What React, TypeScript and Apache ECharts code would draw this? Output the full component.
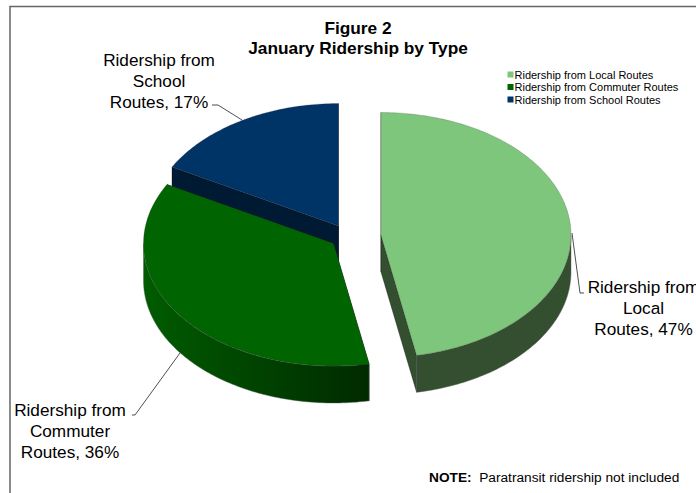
import React, { useEffect, useRef } from "react";
import * as echarts from "echarts";

const sliceNames = ["Ridership from Local Routes", "Ridership from Commuter Routes", "Ridership from School Routes"];
const sliceShares = [47, 36, 17];
const labelLines = [
  ["Ridership from", "Local", "Routes, 47%"],
  ["Ridership from", "Commuter", "Routes, 36%"],
  ["Ridership from", "School", "Routes, 17%"],
];
const titleLines = ["Figure 2", "January Ridership by Type"];
const topColors = ["#7DC67C", "#006400", "#003366"];

const centers = [[381, 235], [333.5, 243.5], [338.5, 226]];
const RX = 190, RY = 122.5, DEPTH = 37;
const FONT = '"Liberation Sans", Arial, sans-serif';

const wallFills: any[] = [
  "#344F30",
  { type: "linear", x: 0, y: 0, x2: 1, y2: 0, colorStops: [{ offset: 0, color: "#005C00" }, { offset: 1, color: "#002A00" }] },
  "#001A33",
];
const faceFills = ["#344F30", "#002A00", "#001A33"];

function pt(i: number, deg: number, dy = 0): number[] {
  const a = (deg * Math.PI) / 180;
  return [centers[i][0] + RX * Math.sin(a), centers[i][1] - RY * Math.cos(a) + dy];
}
function arc(i: number, from: number, to: number, dy = 0): number[][] {
  const out: number[][] = [];
  const n = Math.max(2, Math.ceil(Math.abs(to - from)));
  for (let k = 0; k <= n; k++) out.push(pt(i, from + ((to - from) * k) / n, dy));
  return out;
}

function renderSlice(i: number) {
  return (_p: any, api: any) => {
    const value = api.value(0) as number;
    const before = sliceShares.slice(0, i).reduce((s, v) => s + v, 0);
    const a0 = (before / 100) * 360;
    const a1 = a0 + (value / 100) * 360;
    const children: any[] = [];
    const c = centers[i];
    const line = { stroke: "rgba(0,0,0,0.55)", lineWidth: 0.6 };
    [a0, a1].forEach((a) => {
      const e = pt(i, a);
      children.push({
        type: "polygon",
        shape: { points: [c, e, [e[0], e[1] + DEPTH], [c[0], c[1] + DEPTH]] },
        style: { fill: faceFills[i], ...line },
      });
    });
    const w0 = Math.max(a0, 90), w1 = Math.min(a1, 270);
    if (w1 > w0) {
      children.push({
        type: "polygon",
        shape: { points: [...arc(i, w0, w1), ...arc(i, w1, w0, DEPTH)] },
        style: { fill: wallFills[i], stroke: "rgba(90,90,90,0.7)", lineWidth: 0.6 },
      });
    }
    children.push({
      type: "polygon",
      shape: { points: [c, ...arc(i, a0, a1)] },
      style: { fill: topColors[i], stroke: "rgba(60,60,60,0.45)", lineWidth: 0.5 },
    });
    return { type: "group", children };
  };
}

const order = [2, 1, 0];

export default function App() {
  const ref = useRef<HTMLDivElement>(null);
  useEffect(() => {
    document.body.style.margin = "0";
    const chart = echarts.init(ref.current!, undefined, { renderer: "svg" });
    const labelText = (i: number, x: number, y: number) => ({
      type: "text", x, y,
      style: { text: labelLines[i].join("\n"), font: `17.2px ${FONT}`, fill: "#000", align: "center", verticalAlign: "top", lineHeight: 21 },
    });
    const leader = (points: number[][]) => ({
      type: "polyline", shape: { points }, style: { stroke: "#222", lineWidth: 0.8, fill: "none" },
    });
    chart.setOption({
      animation: false,
      backgroundColor: "#fff",
      title: {
        text: titleLines.join("\n"),
        left: 358, top: 18, padding: 0, textAlign: "center",
        textStyle: { fontFamily: FONT, fontSize: 17.3, fontWeight: "bold", color: "#000", lineHeight: 20 },
      },
      legend: {
        data: sliceNames,
        orient: "vertical",
        left: 507.5, top: 69,
        itemWidth: 6, itemHeight: 6, itemGap: 1.5, padding: 0,
        icon: "rect",
        selectedMode: false,
        textStyle: { fontFamily: FONT, fontSize: 11, color: "#000", padding: [0, 0, 0, -4] },
      },
      series: order.map((i) => ({
        type: "custom",
        name: sliceNames[i],
        coordinateSystem: "none",
        itemStyle: { color: topColors[i] },
        data: [[sliceShares[i]]],
        renderItem: renderSlice(i),
      })),
      graphic: [
        { type: "polyline", z: -1, shape: { points: [[10, 493], [10, 6.5], [696, 6.5]] }, style: { stroke: "#666", lineWidth: 1.5, fill: "none" } },
        labelText(2, 159, 49),
        labelText(0, 643.5, 276),
        labelText(1, 70, 399),
        leader([[212, 105], [218, 105], [242, 120]]),
        leader([[572, 233], [580, 293], [584, 293]]),
        leader([[132, 415], [135, 415], [180, 353]]),
        {
          type: "text", x: 429, y: 470,
          style: {
            text: "{b|NOTE:}  Paratransit ridership not included",
            font: `13.7px ${FONT}`, fill: "#000", verticalAlign: "top",
            rich: { b: { font: `bold 13.7px ${FONT}`, fill: "#000" } },
          },
        },
      ],
    });
    return () => chart.dispose();
  }, []);
  return <div ref={ref} style={{ width: 696, height: 493 }} />;
}
